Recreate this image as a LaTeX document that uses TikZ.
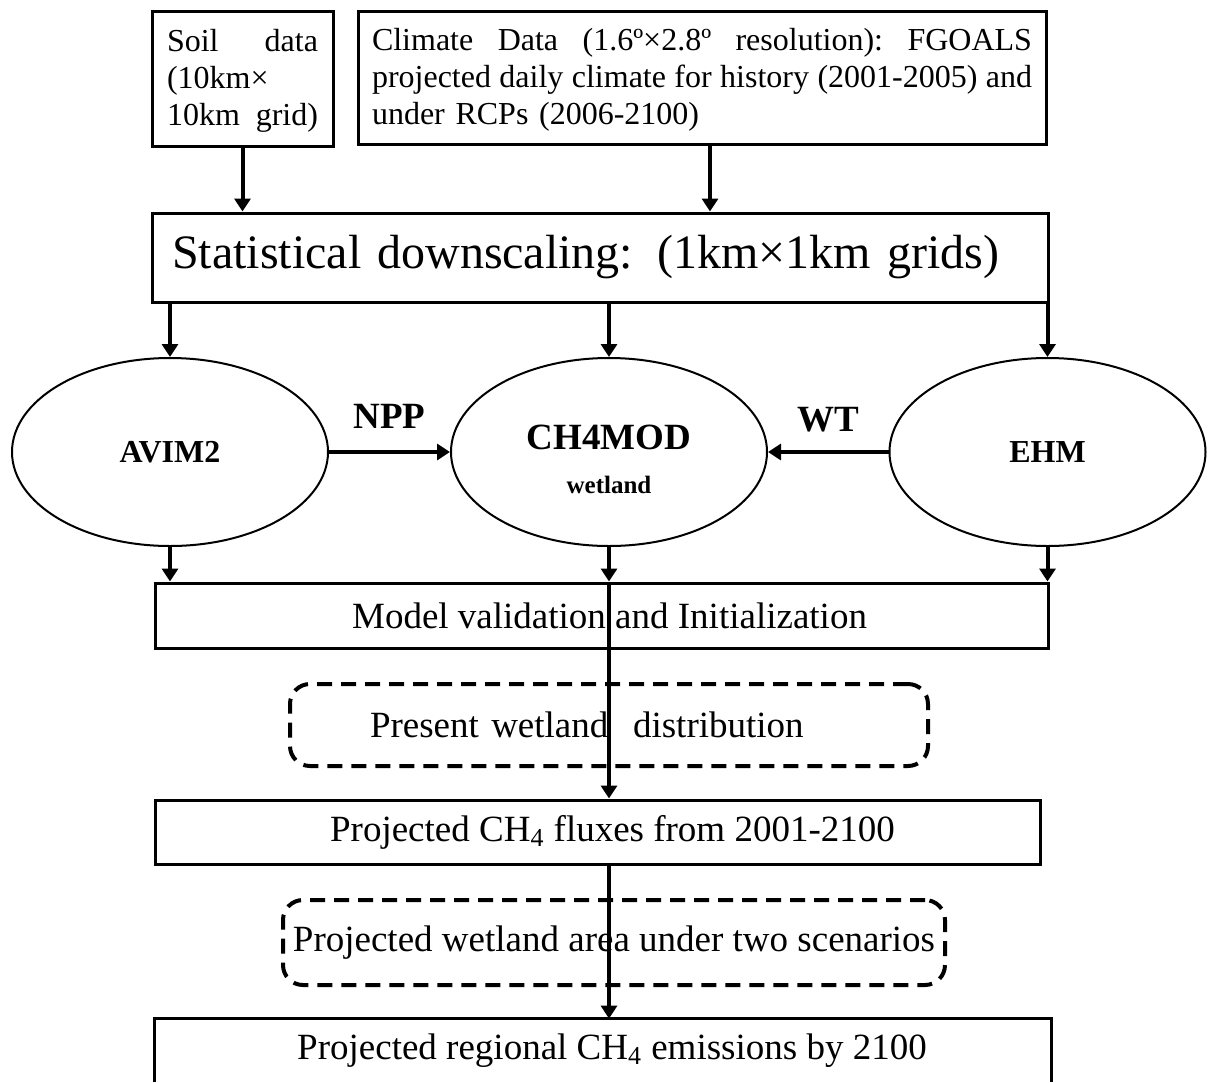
\documentclass[tikz,border=0pt]{standalone}
\usepackage{fontspec}
\setmainfont{Liberation Serif}
\usetikzlibrary{shapes.geometric,arrows.meta}
\begin{document}
\begin{tikzpicture}[x=0.5pt,y=-0.5pt,
  box/.style={draw, line width=1.5pt, inner sep=0pt, align=center, font=\fontsize{18.5pt}{22pt}\selectfont},
  topbox/.style={draw, line width=1.5pt, inner sep=0pt, align=left, font=\fontsize{16pt}{18.5pt}\selectfont},
  ell/.style={draw, ellipse, line width=1pt, inner sep=0pt, minimum width=158pt, minimum height=94pt, align=center, font=\bfseries\fontsize{16pt}{19pt}\selectfont},
  dbox/.style={draw, line width=2pt, dash pattern=on 7.5pt off 4.5pt, rounded corners=10pt, inner sep=0pt, font=\fontsize{18.5pt}{22pt}\selectfont},
  arr/.style={line width=2pt, -{Triangle[length=6.5pt,width=8pt]}},
  lbl/.style={font=\bfseries\fontsize{18.5pt}{22pt}\selectfont}
]
\useasboundingbox (0,0) rectangle (1210,1082);

% top boxes
\node[topbox, minimum width=90.5pt, minimum height=67.5pt, text width=75.5pt] (soil) at (242.5,78.5)
  {\leavevmode\rule{0pt}{13pt}\hbox to 75.5pt{Soil\hfill data}\\(10km×\\\leavevmode\hbox to 75.5pt{10km\hfill grid)}};
\node[topbox, minimum width=344pt, minimum height=66.5pt, text width=330pt] (clim) at (702,77.5)
  {\leavevmode\rule{0pt}{13pt}\hbox to 330pt{Climate\hfill Data\hfill (1.6º×2.8º\hfill resolution):\hfill FGOALS}\\\leavevmode\hbox to 330pt{projected\hfill daily\hfill climate\hfill for\hfill history\hfill (2001-2005)\hfill and}\\under RCPs (2006-2100)};

% downscaling
\node[draw, line width=1.5pt, inner xsep=10pt, inner ysep=0pt, minimum width=448pt, minimum height=44.5pt, text width=428pt, align=left, font=\fontsize{24pt}{28pt}\selectfont] (down) at (600,257.5)
  {Statistical downscaling: (1km×1km grids)};

% models
\node[ell] (avim) at (170,452) {AVIM2};
\node[ell] (ch4) at (609,452) {\rule{0pt}{20pt}{\fontsize{18.5pt}{23pt}\selectfont CH4MOD}\\[3pt]{\fontsize{12.5pt}{15pt}\selectfont wetland}};
\node[ell] (ehm) at (1047.5,452) {EHM};

% lower boxes
\node[box, minimum width=446.5pt, minimum height=32.5pt] (valid) at (601.5,615.5) {\hspace*{8pt}Model validation and Initialization};
\node[dbox, minimum width=319pt, minimum height=41pt, text width=239pt, inner xsep=40pt, align=left] (pres) at (609,725) {Present wetland\ \ distribution};
\node[box, minimum width=442.5pt, minimum height=32pt] (flux) at (597.5,832) {\hspace*{15pt}Projected CH\textsubscript{4} fluxes from 2001-2100};
\node[dbox, minimum width=331pt, minimum height=42.5pt, align=center] (area) at (614,942.5) {Projected wetland area under two scenarios};
\node[inner sep=0pt, minimum width=448pt, minimum height=31.5pt, font=\fontsize{18.5pt}{22pt}\selectfont] (final) at (603,1050.5) {\hspace*{9pt}\raisebox{-2pt}{Projected regional CH\textsubscript{4} emissions by 2100}};
\draw[line width=1.5pt] (final.south west) -- (final.north west) -- (final.north east) -- (final.south east);

% connectors
\draw[arr] (soil.south) -- (soil.south |- down.north);
\draw[arr] ([xshift=4pt]clim.south) -- ([xshift=4pt]clim.south |- down.north);
\draw[arr] (down.south -| avim.north) -- (avim.north);
\draw[arr] (down.south -| ch4.north) -- (ch4.north);
\draw[arr] (down.south -| ehm.north) -- (ehm.north);
\draw[arr] (avim.east) -- node[lbl, midway, yshift=18pt] {NPP} (ch4.west);
\draw[arr] (ehm.west) -- node[lbl, midway, yshift=16pt] {WT} (ch4.east);
\draw[arr] (avim.south) -- (avim.south |- valid.north);
\draw[arr] (ehm.south) -- (ehm.south |- valid.north);
\draw[arr] (ch4.south) -- (ch4.south |- valid.north);
\draw[arr] (ch4.south |- valid.north) -- (ch4.south |- flux.north);
\draw[arr] (ch4.south |- flux.south) -- (ch4.south |- final.north);
\end{tikzpicture}
\end{document}
